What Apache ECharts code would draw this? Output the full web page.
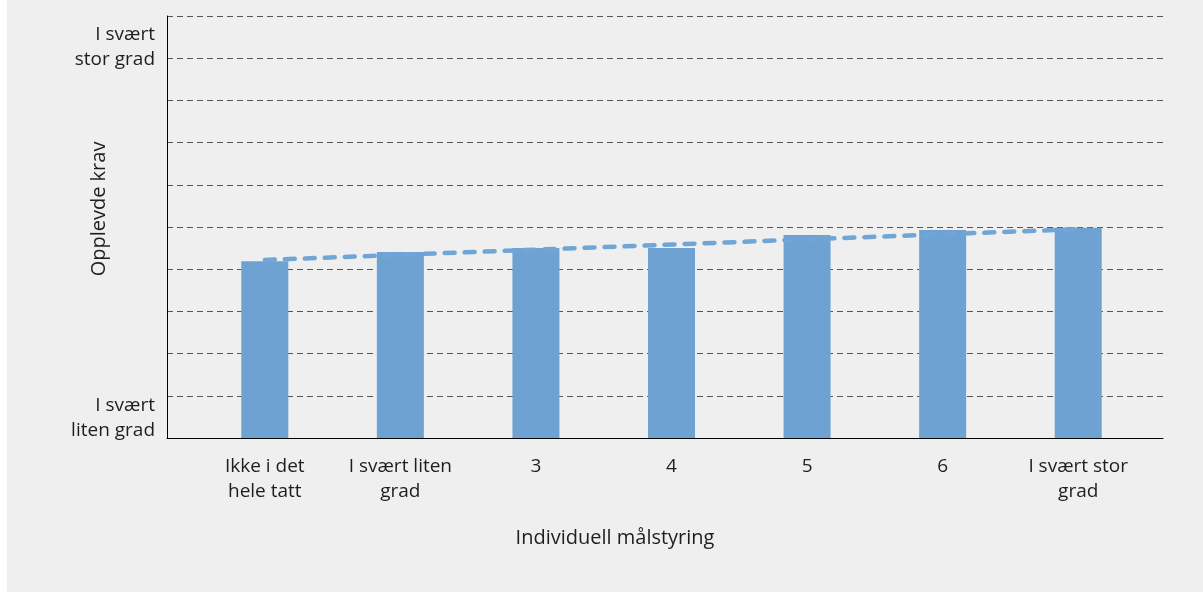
<!DOCTYPE html>
<html><head><meta charset="utf-8">
<script src="https://cdn.jsdelivr.net/npm/echarts@6/dist/echarts.min.js"></script>
<style>
html,body{margin:0;padding:0;background:#ffffff;width:1203px;height:594px;overflow:hidden}
#c{position:absolute;left:7px;top:0;width:1196px;height:592px;background:#efefef}
</style>
</head><body><div id="c"></div>
<script>
const categories = ['Ikke i det\nhele tatt', 'I svært liten\ngrad', '3', '4', '5', '6', 'I svært stor\ngrad'];
const barValues = [4.19, 4.41, 4.50, 4.50, 4.81, 4.93, 4.98];
const trendValues = [4.22, 4.95]; // trend line at first and last category
const yTickValues = [0.46, 9.27];
const yTickLabels = ['I svært\nliten grad', 'I svært\nstor grad'];
const xAxisName = 'Individuell målstyring';
const yAxisName = 'Opplevde krav';

const FONT = "'Open Sans', 'Noto Sans', sans-serif";
const TXT = '#1e1e1e';
const chart = echarts.init(document.getElementById('c'), null, {renderer: 'canvas'});
chart.setOption({
  animation: false,
  backgroundColor: '#efefef',
  grid: [
    {left: 160, right: 40, top: 16, bottom: 154},
    {left: 190, right: 57, top: 16, bottom: 154}
  ],
  xAxis: [
    {gridIndex: 0, type: 'value', min: 0, max: 1, position: 'bottom',
     axisLine: {show: true, onZero: false, lineStyle: {color: '#000', width: 1}},
     axisTick: {show: false}, axisLabel: {show: false}, splitLine: {show: false}},
    {gridIndex: 1, type: 'category', data: categories,
     axisLine: {show: false}, axisTick: {show: false}, splitLine: {show: false},
     axisLabel: {interval: 0, margin: 16, fontSize: 19, lineHeight: 25, color: TXT, fontFamily: FONT},
     name: xAxisName, nameLocation: 'middle', nameGap: 90,
     nameTextStyle: {fontSize: 20, color: TXT, fontFamily: FONT, padding: [0, 113, 0, 0]}}
  ],
  yAxis: [
    {gridIndex: 0, type: 'value', min: 0, max: 10, interval: 1, position: 'left',
     axisLine: {show: true, lineStyle: {color: '#000', width: 1}},
     axisTick: {show: false}, axisLabel: {show: false},
     splitLine: {show: true, lineStyle: {color: '#555555', width: 1, type: [6, 4]}},
     name: yAxisName, nameLocation: 'middle', nameGap: 58, nameRotate: 90,
     nameTextStyle: {fontSize: 20, color: TXT, fontFamily: FONT, padding: [0, 0, 0, 36]}},
    {gridIndex: 0, type: 'value', min: 0, max: 10, position: 'left',
     axisLine: {show: false}, axisTick: {show: false}, splitLine: {show: false},
     axisLabel: {customValues: yTickValues, margin: 12, fontSize: 19, lineHeight: 25, color: TXT, fontFamily: FONT, align: 'right',
       formatter: function (v) {
         let best = 0, d = Infinity;
         yTickValues.forEach(function (t, i) { if (Math.abs(t - v) < d) { d = Math.abs(t - v); best = i; } });
         return yTickLabels[best];
       }}},
    {gridIndex: 1, type: 'value', min: 0, max: 10, show: false}
  ],
  series: [
    {type: 'bar', xAxisIndex: 1, yAxisIndex: 2, data: barValues, barWidth: 47,
     itemStyle: {color: '#6ea2d3'}, z: 2},
    {type: 'line', xAxisIndex: 1, yAxisIndex: 2,
     data: [[0, trendValues[0]], [categories.length - 1, trendValues[1]]],
     symbol: 'none', silent: true,
     lineStyle: {color: '#70a5d6', width: 4.5, type: [10, 10], cap: 'round'}, z: 3}
  ]
});
</script>
</body></html>
